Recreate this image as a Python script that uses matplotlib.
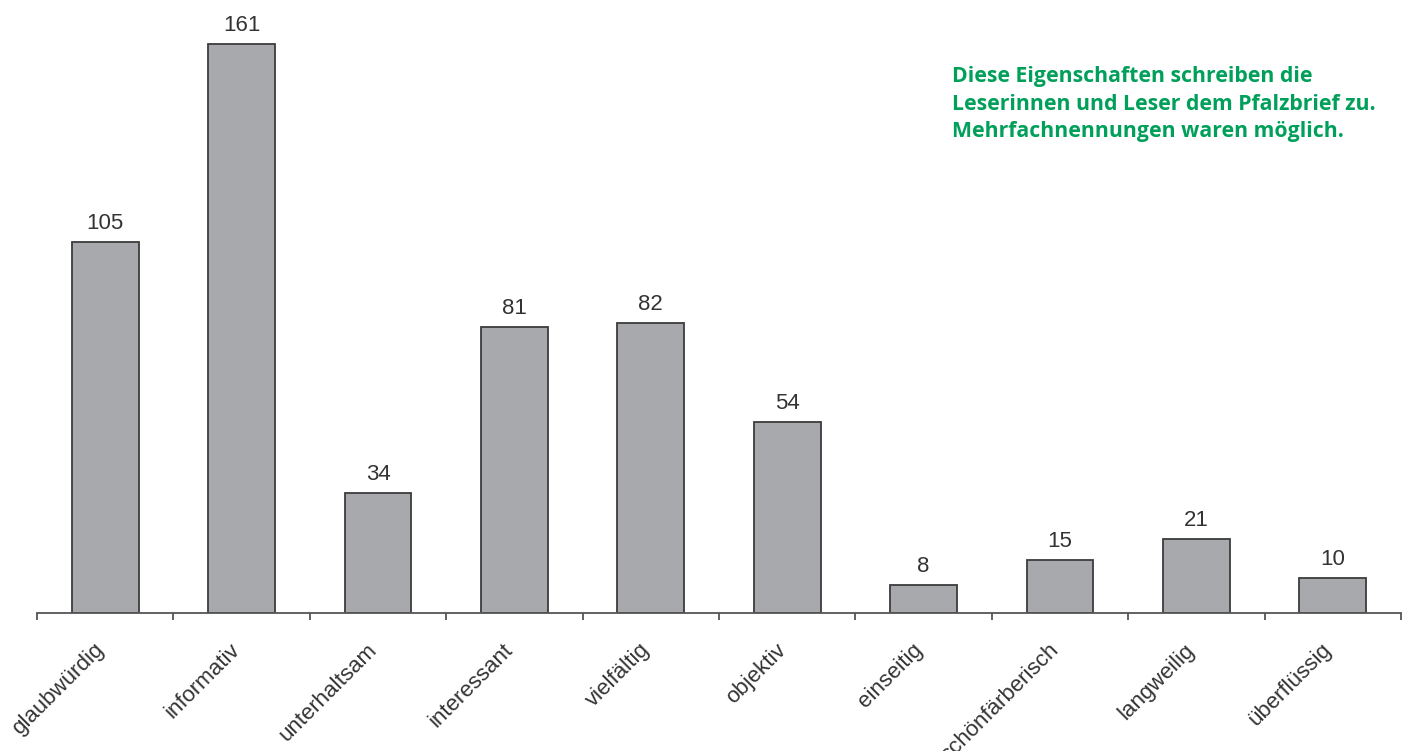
import matplotlib.pyplot as plt
import matplotlib.transforms as mtransforms
import numpy as np

# Daten
kategorien = ["glaubwürdig", "informativ", "unterhaltsam", "interessant", "vielfältig",
              "objektiv", "einseitig", "schönfärberisch", "langweilig", "überflüssig"]
werte = [105, 161, 34, 81, 82, 54, 8, 15, 21, 10]
hinweis = ("Diese Eigenschaften schreiben die\n"
           "Leserinnen und Leser dem Pfalzbrief zu.\n"
           "Mehrfachnennungen waren möglich.")

W, H = 1411, 751
fig = plt.figure(figsize=(W / 100, H / 100), dpi=100)
ax = fig.add_axes([37 / W, 138 / H, (1401 - 37) / W, 601 / H])

x = np.arange(len(kategorien))
ax.bar(x, werte, width=0.49, color="#a7a9ac", edgecolor="#3c3c3c", linewidth=1.3, zorder=2)

for xi, v in zip(x, werte):
    ax.text(xi, v + 2.3, str(v), ha="center", va="bottom", fontsize=16,
            family="Liberation Sans", color="#333333")

ax.set_xlim(-0.5, len(kategorien) - 0.5)
ax.set_ylim(0, 170)

for s in ["top", "right", "left"]:
    ax.spines[s].set_visible(False)
ax.spines["bottom"].set_color("#555555")
ax.spines["bottom"].set_linewidth(1.3)
ax.set_yticks([])

ax.set_xticks(x)
ax.set_xticklabels(kategorien, rotation=45, ha="right", rotation_mode="anchor",
                   fontsize=16, family="Liberation Sans", color="#333333")
ax.tick_params(axis="x", which="major", length=0, pad=19)
ax.set_xticks(np.arange(len(kategorien) + 1) - 0.5, minor=True)
ax.tick_params(axis="x", which="minor", length=5, width=1.3, color="#555555")

# Beschriftungen etwas nach links schieben
versatz = mtransforms.ScaledTranslation(-12 / 100, 0, fig.dpi_scale_trans)
for lab in ax.get_xticklabels():
    lab.set_transform(lab.get_transform() + versatz)

fig.text(952 / W, 1 - 66 / H, hinweis, ha="left", va="top", fontsize=15.3,
         fontweight="bold", family="Open Sans", color="#00a05a", linespacing=1.42)

fig.savefig("out.png", dpi=100)
